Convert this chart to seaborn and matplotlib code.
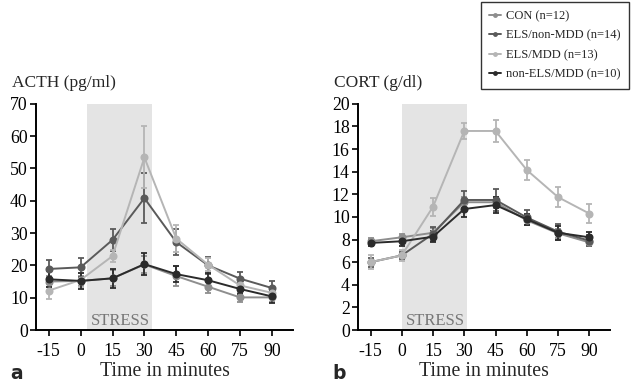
import numpy as np
import pandas as pd
import matplotlib
matplotlib.use("Agg")
import matplotlib.pyplot as plt
import seaborn as sns

times = [-15, 0, 15, 30, 45, 60, 75, 90]
groups = ["CON (n=12)", "ELS/non-MDD (n=14)", "ELS/MDD (n=13)", "non-ELS/MDD (n=10)"]
colors = ["#8e8e8e", "#5a5a5a", "#b5b5b5", "#2b2b2b"]

# ACTH (pg/ml)
acth_con = [15.0, 15.2, 16.0, 20.3, 16.7, 13.4, 10.1, 10.1]
acth_els_nonmdd = [18.9, 19.4, 27.9, 40.8, 27.2, 20.0, 15.9, 13.0]
acth_els_mdd = [12.2, 15.5, 22.9, 53.4, 28.3, 20.2, 13.8, 11.5]
acth_nonels_mdd = [15.7, 15.2, 16.0, 20.4, 17.3, 15.4, 12.7, 10.4]
acth_con_err = [1.8, 1.5, 2.5, 2.5, 3.0, 2.0, 1.3, 1.5]
acth_els_nonmdd_err = [2.8, 3.0, 3.5, 7.7, 4.0, 2.6, 2.2, 2.2]
acth_els_mdd_err = [2.5, 2.2, 2.0, 9.6, 4.3, 2.0, 1.5, 1.5]
acth_nonels_mdd_err = [2.5, 2.4, 2.9, 3.5, 2.5, 2.4, 1.7, 2.0]

# CORT (g/dl)
cort_con = [7.85, 8.2, 8.6, 11.3, 11.3, 9.7, 8.55, 7.75]
cort_els_nonmdd = [6.0, 6.6, 8.5, 11.5, 11.5, 9.95, 8.7, 7.9]
cort_els_mdd = [6.0, 6.6, 10.9, 17.6, 17.6, 14.15, 11.75, 10.3]
cort_nonels_mdd = [7.7, 7.85, 8.25, 10.7, 11.05, 9.8, 8.6, 8.2]
cort_con_err = [0.3, 0.3, 0.4, 0.5, 0.5, 0.4, 0.4, 0.3]
cort_els_nonmdd_err = [0.4, 0.3, 0.6, 0.8, 1.0, 0.7, 0.7, 0.5]
cort_els_mdd_err = [0.6, 0.5, 0.8, 0.7, 1.0, 0.9, 0.9, 0.8]
cort_nonels_mdd_err = [0.3, 0.4, 0.5, 0.7, 0.7, 0.5, 0.6, 0.5]

acth_vals = [acth_con, acth_els_nonmdd, acth_els_mdd, acth_nonels_mdd]
acth_errs = [acth_con_err, acth_els_nonmdd_err, acth_els_mdd_err, acth_nonels_mdd_err]
cort_vals = [cort_con, cort_els_nonmdd, cort_els_mdd, cort_nonels_mdd]
cort_errs = [cort_con_err, cort_els_nonmdd_err, cort_els_mdd_err, cort_nonels_mdd_err]

sns.set_theme(style="ticks")
plt.rcParams["font.family"] = ["Liberation Serif", "DejaVu Serif"]
plt.rcParams["axes.linewidth"] = 1.4

fig = plt.figure(figsize=(6.35, 3.86), dpi=100)
ax_a = fig.add_axes([0.0567, 0.145, 0.405, 0.586])
ax_b = fig.add_axes([0.5638, 0.145, 0.397, 0.586])

def make_df(vals):
    rows = []
    for g, v in zip(groups, vals):
        for t, y in zip(times, v):
            rows.append({"time": t, "value": y, "group": g})
    return pd.DataFrame(rows)

def draw(ax, vals, errs, ymax, ystep, shade, ylabel, letter, legend=False):
    ax.axvspan(shade[0], shade[1], ymin=0, ymax=1, color="#e4e4e4", lw=0, zorder=0)
    df = make_df(vals)
    for g, c, v, e in zip(groups, colors, vals, errs):
        ax.errorbar(times, v, yerr=e, fmt="none", ecolor=c, elinewidth=1.3,
                    capsize=2.2, capthick=1.3, zorder=2)
    sns.lineplot(data=df, x="time", y="value", hue="group", hue_order=groups,
                 palette=colors, marker="o", markersize=5.8, markeredgewidth=0,
                 linewidth=1.4, ax=ax, legend=legend, zorder=3)
    ax.text((shade[0] + shade[1]) / 2 + 0.5, ymax * 0.004, "STRESS", ha="center",
            va="bottom", fontsize=12, color="#777777")
    ax.set_xlim(-21, 100)
    ax.set_ylim(0, ymax)
    ax.set_xticks(times)
    ax.set_xticklabels([str(t) for t in times])
    ax.set_yticks(np.arange(0, ymax + 0.1, ystep))
    ax.tick_params(axis="both", labelsize=12.8, colors="black", length=4, width=1.2,
                   direction="out", pad=2)
    ax.tick_params(axis="x", pad=5)
    ax.set_xlabel("Time in minutes", fontsize=14.3, labelpad=2)
    ax.set_ylabel("")
    ax.text(-0.095, 1.055, ylabel, transform=ax.transAxes, fontsize=12.5,
            ha="left", va="bottom")
    ax.text(-0.10, -0.19, letter, transform=ax.transAxes, fontsize=13.5,
            fontweight="bold", family="DejaVu Sans", ha="left", va="center")
    sns.despine(ax=ax)
    for sp in ["left", "bottom"]:
        ax.spines[sp].set_color("black")

draw(ax_a, acth_vals, acth_errs, 70, 10, (3, 33.5), "ACTH (pg/ml)", "a")
draw(ax_b, cort_vals, cort_errs, 20, 2, (0, 31.5), "CORT (g/dl)", "b", legend=True)

leg = ax_b.get_legend()
handles, labels = ax_b.get_legend_handles_labels()
leg.remove()
for h in handles:
    h.set_markersize(3.5)
fig.legend(handles, labels, loc="upper right", bbox_to_anchor=(629 / 635, 1 - 2 / 386),
           frameon=True, fancybox=False, edgecolor="black", fontsize=9.0,
           handlelength=1.0, handletextpad=0.4, labelspacing=0.6, borderpad=0.65,
           borderaxespad=0)
fig.legends[0].get_frame().set_linewidth(1.0)

fig.savefig("out.png", dpi=100)
